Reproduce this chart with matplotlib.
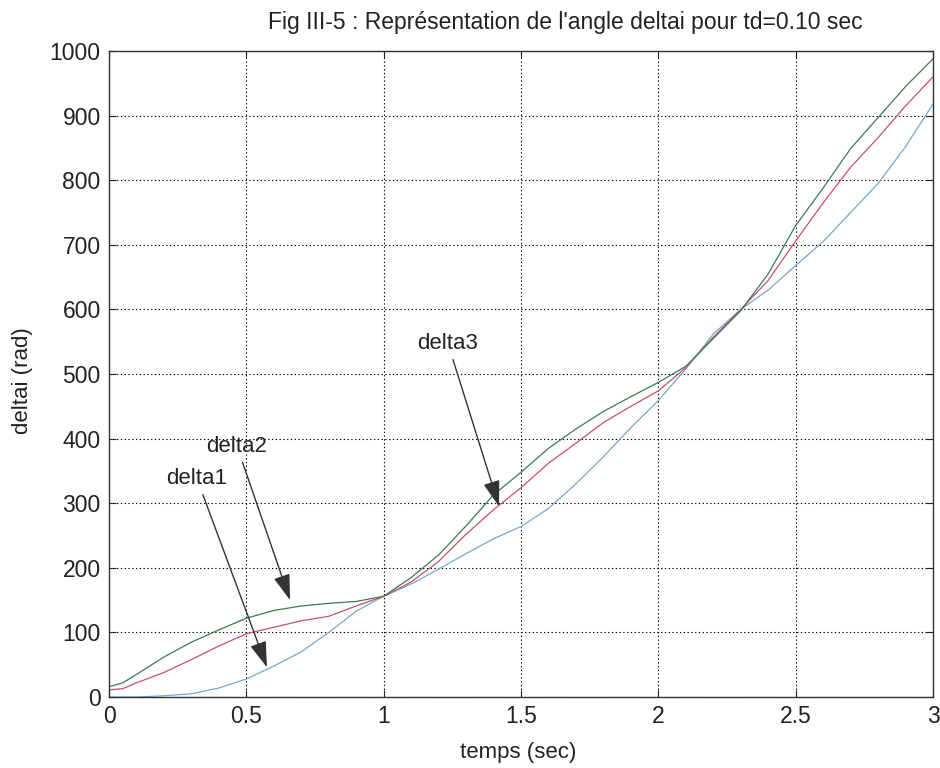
import numpy as np
import matplotlib.pyplot as plt

plt.rcParams['font.family'] = ['Liberation Sans', 'DejaVu Sans']

# time axis (sec)
t = [0.0, 0.05, 0.1, 0.2, 0.3, 0.4, 0.5, 0.6, 0.7, 0.8, 0.9, 1.0,
     1.1, 1.2, 1.3, 1.4, 1.5, 1.6, 1.7, 1.8, 1.9, 2.0,
     2.1, 2.2, 2.3, 2.4, 2.5, 2.6, 2.7, 2.8, 2.9, 3.0]

# rotor angles (rad)
delta1 = [0, 0, 0, 2, 5, 14, 28, 48, 70, 100, 133, 156,
          175, 198, 222, 245, 264, 292, 330, 372, 417, 459,
          508, 562, 600, 630, 668, 705, 750, 795, 852, 918]
delta2 = [16, 22, 35, 62, 85, 104, 122, 134, 141, 145, 148, 156,
          185, 220, 265, 313, 348, 385, 415, 442, 465, 487,
          512, 555, 598, 655, 730, 788, 849, 897, 945, 988]
delta3 = [11, 13, 22, 38, 58, 79, 98, 108, 118, 125, 141, 156,
          178, 210, 252, 290, 324, 362, 393, 425, 450, 474,
          510, 557, 600, 645, 706, 765, 820, 866, 915, 960]

fig = plt.figure(figsize=(9.4, 7.68), dpi=100)
ax = fig.add_axes([0.116, 0.0924, 0.8766, 0.8412])

ax.plot(t, delta1, color='#7aa6cf', linewidth=0.9)
ax.plot(t, delta3, color='#c9506a', linewidth=0.9)
ax.plot(t, delta2, color='#3d7a52', linewidth=0.9)

ax.set_xlim(0, 3)
ax.set_ylim(0, 1000)
ax.set_xticks(np.arange(0, 3.01, 0.5))
ax.set_xticklabels(['0', '0.5', '1', '1.5', '2', '2.5', '3'])
ax.set_yticks(np.arange(0, 1001, 100))

ax.grid(True, color='black', linestyle=(0, (1.2, 2.2)), linewidth=0.8)
ax.tick_params(direction='in', top=True, right=True, length=5,
               labelsize=16.5, colors='#222222', pad=6)
for s in ax.spines.values():
    s.set_linewidth(1.0)
    s.set_color('#333333')

arrow = dict(arrowstyle='-|>,head_length=1.0,head_width=0.32',
             color='#333333', lw=1.0, shrinkA=2, shrinkB=0)
ax.annotate('delta1', xy=(0.575, 46), xytext=(0.32, 338),
            ha='center', va='center', fontsize=16, color='#222222',
            arrowprops=arrow)
ax.annotate('delta2', xy=(0.659, 150), xytext=(0.466, 388),
            ha='center', va='center', fontsize=16, color='#222222',
            arrowprops=arrow)
ax.annotate('delta3', xy=(1.42, 295), xytext=(1.234, 547),
            ha='center', va='center', fontsize=16, color='#222222',
            arrowprops=arrow)

fig.text(0.601, 0.971, "Fig III-5 : Représentation de l'angle deltai pour td=0.10 sec",
         ha='center', va='center', fontsize=16.5, color='#222222')
fig.text(0.551, 0.02, 'temps (sec)', ha='center', va='center',
         fontsize=16, color='#222222')
fig.text(0.024, 0.505, 'deltai (rad)', ha='center', va='center',
         rotation=90, fontsize=16, color='#222222')

fig.savefig('out.png', dpi=100)
